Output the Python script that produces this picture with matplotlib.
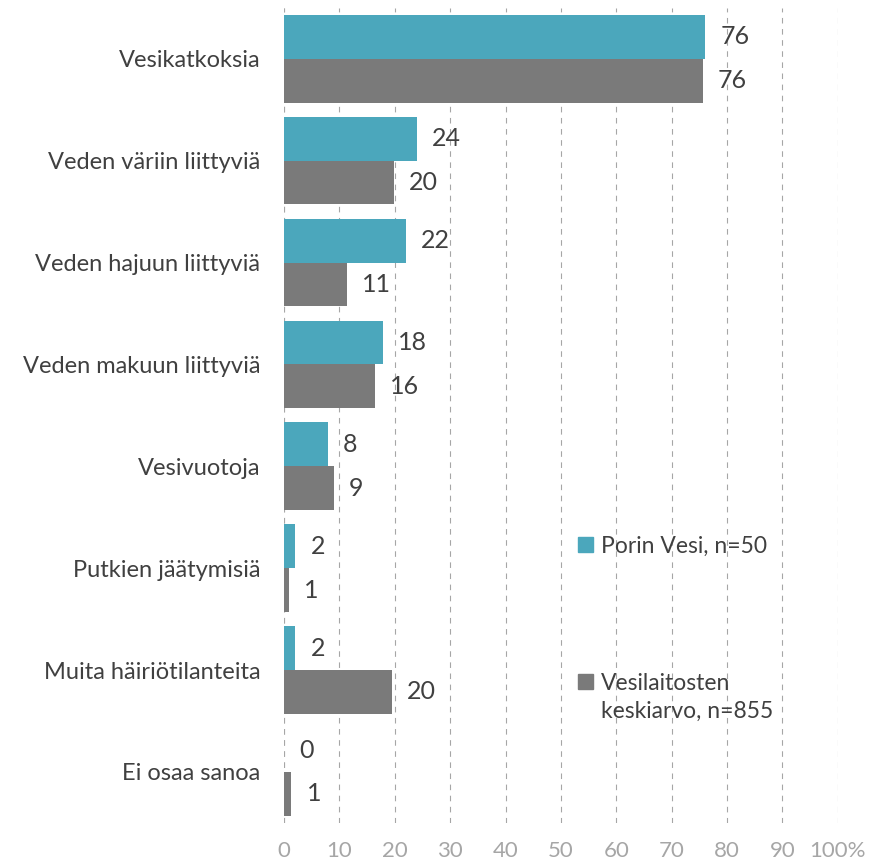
import matplotlib.pyplot as plt
from matplotlib.patches import Rectangle
import numpy as np

# data (percent)
categories = ["Vesikatkoksia", "Veden väriin liittyviä", "Veden hajuun liittyviä",
              "Veden makuun liittyviä", "Vesivuotoja", "Putkien jäätymisiä",
              "Muita häiriötilanteita", "Ei osaa sanoa"]
porin = [76.0, 24.0, 22.0, 17.9, 7.9, 2.0, 2.0, 0.0]
keskiarvo = [75.6, 19.8, 11.4, 16.4, 9.0, 0.9, 19.5, 1.3]
series_names = ["Porin Vesi, n=50", "Vesilaitosten\nkeskiarvo, n=855"]
xticks = [0, 10, 20, 30, 40, 50, 60, 70, 80, 90, 100]
xtick_labels = ["0", "10", "20", "30", "40", "50", "60", "70", "80", "90", "100%"]

teal = "#4BA7BC"
grey = "#7A7A7A"
text_col = "#404040"

plt.rcParams["font.family"] = ["Lato", "DejaVu Sans"]

W, H = 896, 868
fig = plt.figure(figsize=(W / 100, H / 100), dpi=100)
ax = fig.add_axes([0.317, 0.052, 0.618, 0.939])

y = np.arange(len(categories))
h = 0.43
b1 = ax.barh(y - h / 2, porin, height=h, color=teal)
b2 = ax.barh(y + h / 2, keskiarvo, height=h, color=grey)

ax.bar_label(b1, labels=[f"{v:.0f}" for v in porin], padding=11,
             fontsize=18, color=text_col)
ax.bar_label(b2, labels=[f"{v:.0f}" for v in keskiarvo], padding=11,
             fontsize=18, color=text_col)

ax.set_ylim(len(categories) - 0.5, -0.5)
ax.set_xlim(0, 100)
ax.set_yticks(y)
ax.set_yticklabels(categories, fontsize=17, color=text_col)
ax.set_xticks(xticks)
ax.set_xticklabels(xtick_labels, fontsize=16, color="#A6A6A6")
ax.tick_params(axis="y", length=0, pad=17)
ax.tick_params(axis="x", length=0, pad=13)

for s in ax.spines.values():
    s.set_visible(False)
ax.set_axisbelow(True)
ax.grid(axis="x", color="#A6A6A6", linestyle=(0, (5, 5)), linewidth=0.8)
ax.axvline(0, color="#BFBFBF", linestyle=(0, (5, 5)), linewidth=0.8, zorder=0)

# legend: marker centre and first-line top, pixels from the top of the figure
legend_rows = [(teal, 544, 536), (grey, 681, 673)]
for (col, mid, top), name in zip(legend_rows, series_names):
    fig.patches.append(Rectangle((578 / W, 1 - (mid + 7.5) / H), 15 / W, 15 / H,
                                 color=col, transform=fig.transFigure))
    fig.text(601 / W, 1 - top / H, name, fontsize=16.5, color=text_col,
             va="top", ha="left", linespacing=1.4)

fig.savefig("out.png", dpi=100)
